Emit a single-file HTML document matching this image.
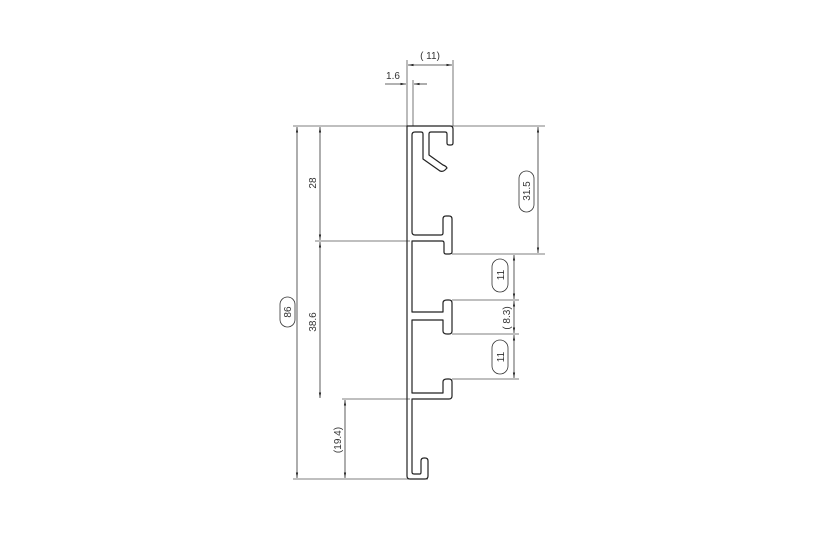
<!DOCTYPE html>
<html><head><meta charset="utf-8"><style>
html,body{margin:0;padding:0;background:#fff;}
svg{display:block;}
text{font-family:"Liberation Sans",sans-serif;font-size:10px;fill:#333;}
</style></head><body>
<svg width="820" height="547" viewBox="0 0 820 547" xmlns="http://www.w3.org/2000/svg">
<defs>
<marker id="a" viewBox="0 0 10 10" refX="10" refY="5" markerWidth="7" markerHeight="7" orient="auto-start-reverse"><path d="M0,3 L10,5 L0,7z" fill="#222"/></marker>
</defs>
<g stroke="#555" stroke-width="0.8" fill="none">
<!-- extension lines -->
<line x1="293" y1="126" x2="545" y2="126"/>
<line x1="315" y1="241" x2="410" y2="241"/>
<line x1="342" y1="399" x2="410" y2="399"/>
<line x1="293" y1="479" x2="428" y2="479"/>
<line x1="452" y1="254" x2="545" y2="254"/>
<line x1="452" y1="300" x2="519" y2="300"/>
<line x1="452" y1="334" x2="519" y2="334"/>
<line x1="452" y1="379" x2="519" y2="379"/>
<line x1="407" y1="60" x2="407" y2="126"/>
<line x1="453" y1="60" x2="453" y2="126"/>
<line x1="413" y1="80" x2="413" y2="126"/>
</g>
<g stroke="#333" stroke-width="0.8" fill="none" marker-start="url(#a)" marker-end="url(#a)">
<line x1="297" y1="127" x2="297" y2="478"/>
<line x1="320" y1="127" x2="320" y2="240"/>
<line x1="320" y1="242" x2="320" y2="398"/>
<line x1="345" y1="400" x2="345" y2="478"/>
<line x1="538" y1="127" x2="538" y2="253"/>
<line x1="514" y1="255" x2="514" y2="299"/>
<line x1="514" y1="301" x2="514" y2="333"/>
<line x1="514" y1="335" x2="514" y2="378"/>
<line x1="408" y1="65" x2="452" y2="65"/>
</g>
<g stroke="#333" stroke-width="0.8" fill="none">
<line x1="385" y1="84" x2="406" y2="84" marker-end="url(#a)"/>
<line x1="427" y1="84" x2="414" y2="84" marker-end="url(#a)"/>
</g>
<!-- profile -->
<g stroke="#222" stroke-width="1.2" fill="none" stroke-linejoin="round">
<path d="M407,126 L450,126 Q453,126 453,129 L453,143 Q453,145 451,145 L449,145 Q447,145 447,143 L447,134 Q447,132 445,132 L431,132 Q429,132 429,134 L429,155 L443,165 Q446,166 447,168 L445,170 Q443,172 440,171 L423,159 L423,134 Q423,132 421,132 L415,132 Q412,132 412,135 L412,232 Q412,235 415,235 L441,235 Q443,235 443,233 L443,219 Q443,216 446,216 L449,216 Q452,216 452,219 L452,252 Q452,254 449,254 L446,254 Q444,254 444,252 L444,243 Q444,241 442,241 L412,241 L412,312 L443,312 L443,303 Q443,300 447,300 L449,300 Q452,300 452,303 L452,331 Q452,334 449,334 L447,334 Q443,334 443,331 L443,320 L412,320 L412,393 L443,393 L443,382 Q443,379 447,379 L449,379 Q452,379 452,382 L452,396 Q452,399 449,399 L412,399 L412,472 Q412,474 414,474 L420,474 Q421,474 421,472 L421,461 Q421,458 424,458 L425,458 Q428,458 428,461 L428,476 Q428,479 425,479 L410,479 Q407,479 407,476 Z"/>
</g>
<!-- labels -->
<text x="430" y="59" text-anchor="middle">( 11)</text>
<text x="393" y="79" text-anchor="middle">1.6</text>
<g>
<text transform="translate(316,183) rotate(-90)" text-anchor="middle">28</text>
<text transform="translate(316,322) rotate(-90)" text-anchor="middle">38.6</text>
<text transform="translate(341,440) rotate(-90)" text-anchor="middle">(19.4)</text>
<rect x="280" y="297" width="15" height="30" rx="7.5" fill="none" stroke="#333" stroke-width="0.8"/>
<text transform="translate(291,312) rotate(-90)" text-anchor="middle">86</text>
<rect x="519" y="171" width="15" height="41" rx="7.5" fill="none" stroke="#333" stroke-width="0.8"/>
<text transform="translate(530,191) rotate(-90)" text-anchor="middle">31.5</text>
<rect x="492" y="259" width="16" height="33" rx="8" fill="none" stroke="#333" stroke-width="0.8"/>
<text transform="translate(504,275) rotate(-90)" text-anchor="middle">11</text>
<rect x="492" y="340" width="16" height="34" rx="8" fill="none" stroke="#333" stroke-width="0.8"/>
<text transform="translate(504,357) rotate(-90)" text-anchor="middle">11</text>
<text transform="translate(510,318) rotate(-90)" text-anchor="middle">( 8.3)</text>
</g>
</svg>
</body></html>
